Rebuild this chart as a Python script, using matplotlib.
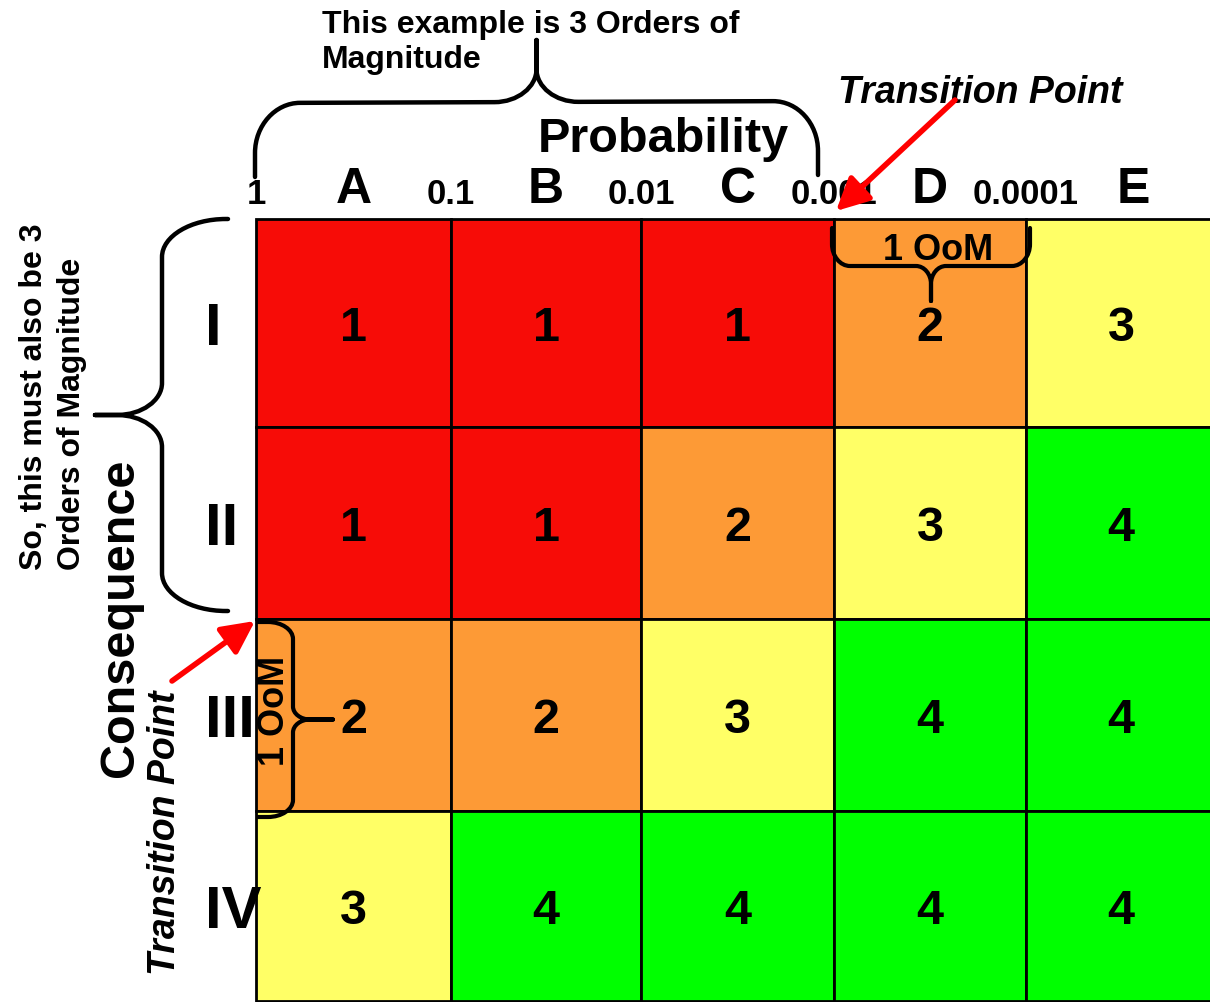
import numpy as np
import matplotlib.pyplot as plt
from matplotlib.patches import Rectangle, PathPatch
from matplotlib.path import Path

plt.rcParams['font.family'] = ['Liberation Sans', 'DejaVu Sans']

# risk matrix contents
prob_cats = ['A', 'B', 'C', 'D', 'E']
prob_bounds = ['1', '0.1', '0.01', '0.001', '0.0001']
conseq_cats = ['I', 'II', 'III', 'IV']
risk = [[1, 1, 1, 2, 3],
        [1, 1, 2, 3, 4],
        [2, 2, 3, 4, 4],
        [3, 4, 4, 4, 4]]
risk_colors = {1: '#F70C07', 2: '#FD9A36', 3: '#FFFF66', 4: '#00FF00'}

# layout, in pixels of the canvas
col_edges = [256, 451, 641, 834, 1026, 1216]
row_edges = [220, 428, 620, 812, 1002]
PX = 72 / 100  # points per pixel at dpi 100


def baseline_for(yc, fs):
    # baseline y that puts the cap height centred on yc
    return yc + 0.358 * fs / PX


def brace(ax, p0, p1, normal, h, t, ca, cb, ma, mb, lw=3.2):
    p0 = np.asarray(p0, float)
    p1 = np.asarray(p1, float)
    L = np.hypot(*(p1 - p0))
    u = (p1 - p0) / L
    n = np.asarray(normal, float)
    k = 0.55
    m = L / 2

    def P(s, d):
        return p0 + s * u + d * n

    verts = [P(0, 0), P(0, h - cb),
             P(0, h - cb + k * cb), P(ca - k * ca, h), P(ca, h),
             P(m - ma, h),
             P(m - ma + k * ma, h), P(m, h + mb - k * mb), P(m, h + mb),
             P(m, h + t),
             P(m, h + mb),
             P(m, h + mb - k * mb), P(m + ma - k * ma, h), P(m + ma, h),
             P(L - ca, h),
             P(L - ca + k * ca, h), P(L, h - cb + k * cb), P(L, h - cb),
             P(L, 0)]
    codes = [Path.MOVETO, Path.LINETO,
             Path.CURVE4, Path.CURVE4, Path.CURVE4,
             Path.LINETO,
             Path.CURVE4, Path.CURVE4, Path.CURVE4,
             Path.LINETO,
             Path.LINETO,
             Path.CURVE4, Path.CURVE4, Path.CURVE4,
             Path.LINETO,
             Path.CURVE4, Path.CURVE4, Path.CURVE4,
             Path.LINETO]
    ax.add_patch(PathPatch(Path(verts, codes), facecolor='none',
                           edgecolor='black', lw=lw, capstyle='round',
                           joinstyle='round', zorder=5))


def red_arrow(ax, tail, head):
    ax.annotate('', xy=head, xytext=tail,
                arrowprops=dict(arrowstyle='-|>,head_length=0.9,head_width=0.45',
                                color='#FF0000', lw=4, mutation_scale=22,
                                shrinkA=0, shrinkB=0), zorder=6)


fig = plt.figure(figsize=(12.1, 10.03), dpi=100)
ax = fig.add_axes([0, 0, 1, 1])
ax.set_xlim(0, 1210)
ax.set_ylim(1003, 0)
ax.axis('off')

# matrix cells
for i, row in enumerate(risk):
    y0, y1 = row_edges[i], row_edges[i + 1]
    for j, val in enumerate(row):
        x0, x1 = col_edges[j], col_edges[j + 1]
        ax.add_patch(Rectangle((x0, y0), x1 - x0, y1 - y0,
                               facecolor=risk_colors[val], edgecolor='black',
                               lw=2, zorder=1))
        ax.text((x0 + x1) / 2, baseline_for((y0 + y1) / 2, 35), str(val),
                ha='center', va='baseline', fontsize=35, fontweight='bold',
                zorder=3)

# consequence categories
for i, lab in enumerate(conseq_cats):
    yc = (row_edges[i] + row_edges[i + 1]) / 2
    ax.text(205, baseline_for(yc, 43), lab, ha='left', va='baseline',
            fontsize=43, fontweight='bold', zorder=2)

# probability categories and decade boundaries
for j, lab in enumerate(prob_cats):
    xc = (col_edges[j] + col_edges[j + 1]) / 2
    if j == len(prob_cats) - 1:
        xc += 12
    ax.text(xc, 203, lab, ha='center', va='baseline', fontsize=36,
            fontweight='bold')
for j, lab in enumerate(prob_bounds):
    ax.text(col_edges[j], 204, lab, ha='center', va='baseline', fontsize=25,
            fontweight='bold')

ax.text(663, 152, 'Probability', ha='center', va='baseline', fontsize=35,
        fontweight='bold')
ax.text(133, 618, 'Consequence', ha='center', va='baseline', fontsize=35,
        fontweight='bold', rotation=90, rotation_mode='anchor')

# annotations
ax.text(322, 33, 'This example is 3 Orders of', ha='left', va='baseline',
        fontsize=23, fontweight='bold')
ax.text(322, 68, 'Magnitude', ha='left', va='baseline',
        fontsize=23, fontweight='bold')
ax.text(42, 570, 'So, this must also be 3', ha='left', va='baseline',
        fontsize=23, fontweight='bold', rotation=90, rotation_mode='anchor')
ax.text(80, 570, 'Orders of Magnitude', ha='left', va='baseline',
        fontsize=23, fontweight='bold', rotation=90, rotation_mode='anchor')

ax.text(980, 103, 'Transition Point', ha='center', va='baseline',
        fontsize=27, fontweight='bold', style='italic')
ax.text(175, 833, 'Transition Point', ha='center', va='baseline',
        fontsize=27, fontweight='bold', style='italic', rotation=90,
        rotation_mode='anchor')

ax.text(938, baseline_for(247, 26), '1 OoM', ha='center', va='baseline',
        fontsize=26, fontweight='bold', zorder=6)
ax.text(284, 711, '1 OoM', ha='center', va='baseline', fontsize=26,
        fontweight='bold', rotation=90, rotation_mode='anchor', zorder=6)

# braces
brace(ax, (255, 178), (818, 176), (0, -1), h=74, t=62, ca=45, cb=50, ma=42, mb=33)
brace(ax, (228, 220), (228, 612), (-1, 0), h=66, t=67, ca=38, cb=64, ma=32, mb=45)
brace(ax, (832, 229), (1030, 229), (0, 1), h=38, t=35, ca=18, cb=22, ma=15, mb=18, lw=3)
brace(ax, (258, 623), (258, 818), (1, 0), h=35, t=40, ca=17, cb=25, ma=13, mb=17, lw=3)

red_arrow(ax, (955, 101), (836, 212))
red_arrow(ax, (172, 682), (255, 622))

fig.savefig('out.png', dpi=100)
